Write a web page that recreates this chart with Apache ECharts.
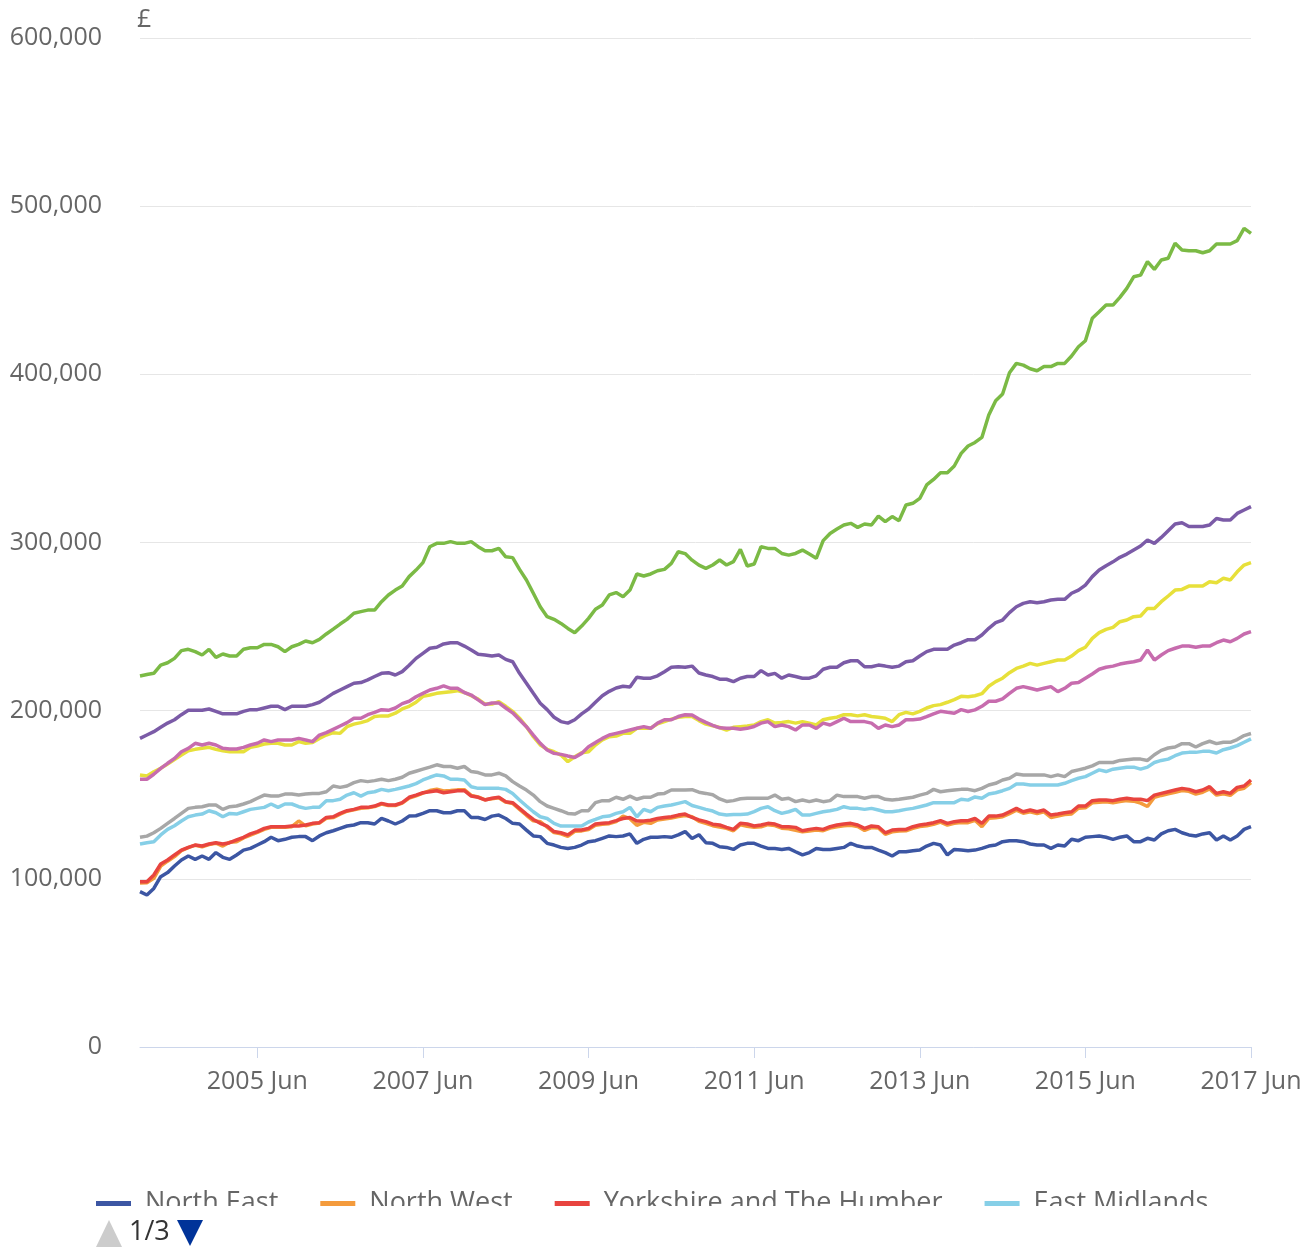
<!DOCTYPE html>
<html>
<head>
<meta charset="utf-8">
<script src="https://cdn.jsdelivr.net/npm/echarts@6/dist/echarts.min.js"></script>
<style>
  html, body { margin: 0; padding: 0; background: #ffffff; }
  #chart { width: 1314px; height: 1248px; }
</style>
</head>
<body>
<div id="chart"></div>
<script>
// ---- Data (monthly, Jan 2004 – Jun 2017, average price £) ----
const monthNames = ['Jan','Feb','Mar','Apr','May','Jun','Jul','Aug','Sep','Oct','Nov','Dec'];
const years = [2004,2005,2006,2007,2008,2009,2010,2011,2012,2013,2014,2015,2016,2017];
const yTicks = [0, 100000, 200000, 300000, 400000, 500000, 600000];

const seriesNames = ['North East','North West','Yorkshire and The Humber','East Midlands','West Midlands','East','London','South East','South West'];
const seriesColors = ['#3c56a3','#f49b3c','#e8443f','#86cfe7','#a7a7a7','#e7e03a','#7bba45','#7b5ba7','#c76cae'];

const northEast = [
  92400,90400,94300,101300,103700,107600,111200,113600,111600,113600,111600,115600,
  112800,111600,114200,117100,118100,120100,122100,124700,122700,123500,124700,125100,
  125100,122700,125500,127400,128600,130000,131400,132000,133400,133400,132600,135900,
  134400,132600,134400,137300,137500,138900,140500,140500,139300,139300,140500,140500,
  136500,136500,135300,137300,137900,135900,133000,132600,129000,125500,125100,121100,
  120100,118700,118100,118700,120100,122100,122700,124100,125500,125100,125500,126700,
  121100,123500,124700,124700,125100,124700,126100,128100,124000,126200,121500,121100,
  119100,118700,117500,120100,121100,121100,119500,118100,118100,117500,118100,116100,
  114200,115600,118100,117500,117500,118100,118700,121100,119500,118700,118700,117100,
  115600,113600,116100,116100,116700,117100,119500,121100,120100,114200,117500,117100,
  116700,117100,118100,119500,120100,122100,122700,122700,122100,120700,120100,120100,
  118100,120100,119500,123500,122700,124700,125100,125500,124700,123500,124700,125500,
  122100,122100,124100,123100,126700,128600,129400,127400,126100,125500,126700,127400,
  123100,125500,123100,125500,129400,131000
];
const northWest = [
  97500,97700,100300,107600,110500,113200,116800,118500,120000,119100,120400,121200,
  119500,121800,122000,124300,126000,127600,129400,130600,130800,130600,131000,134400,
  131500,132600,133200,136000,136400,138400,140200,141000,142000,142200,143000,144500,
  143600,143600,145000,148000,149400,151000,152500,153300,152200,152500,152900,153000,
  149600,148700,147000,147600,148200,145600,144800,141300,137800,134500,134000,130800,
  127500,126800,125200,128300,128500,129300,131800,132500,132800,134000,137300,135800,
  131800,133600,133000,135000,135600,136100,137000,137700,136900,134200,133000,131600,
  130800,130000,128600,132200,131300,130600,131000,132200,131700,130100,129800,128900,
  128000,128500,129000,128600,130200,131000,131600,131900,131100,128800,130500,130200,
  126500,128000,128500,128600,130000,131100,131600,132400,133700,132000,133000,133500,
  133400,134800,131000,136000,136300,136900,138800,140800,139000,139800,138800,139800,
  136500,137400,138200,138600,142000,142300,145200,145600,145800,145300,146000,146500,
  146200,145000,143000,148500,149600,150500,151400,152500,152000,150400,151500,153400,
  149800,150600,149600,152900,153900,157200
];
const yorkshire = [
  98300,98300,102300,108800,111200,114200,117100,118700,120100,119500,120700,121500,
  120700,121500,123100,124700,126700,128100,130000,131000,131000,131000,131400,131400,
  132000,133000,133400,136500,136900,138900,140500,141300,142500,142500,143300,144900,
  143900,143900,145300,148500,149800,151200,151800,152400,151200,151800,152400,152400,
  149200,148500,146900,147900,148500,145900,145300,141900,138500,135300,133000,131400,
  128100,127400,126100,129000,129000,130000,132600,133000,133400,134600,135900,136500,
  134400,134400,134800,135900,136500,136900,137900,138500,136500,135000,134000,132500,
  132000,130600,129400,133000,132600,131400,132000,133000,132600,131000,131000,130600,
  128600,129400,130000,129400,131000,132000,132600,133000,132000,130000,131400,131000,
  127400,129000,129400,129400,131000,132000,132600,133400,134600,133000,134000,134600,
  134600,135900,133000,137300,137300,137900,139900,141900,139900,140900,139900,140900,
  137900,138500,139300,139900,143300,143300,146500,146900,146900,146500,147300,147900,
  147300,147300,146500,149800,150800,151800,152800,153800,153200,151800,152800,154800,
  150800,151800,150800,154400,155200,158800
];
const eastMidlands = [
  120700,121500,122100,126100,129400,131600,134400,136900,137900,138500,140500,139300,
  136900,138900,138500,139900,141300,141900,142500,144500,142500,144500,144500,142900,
  141900,142500,142500,146500,146500,147300,149800,151200,149200,151200,151800,153200,
  152400,153200,154200,155200,156600,158800,160400,161800,161200,159200,159200,158800,
  154800,153800,153800,153800,153800,153200,150800,146900,143300,139900,136900,135900,
  133000,131400,131400,131400,131400,133800,135300,136900,137300,138900,139900,142500,
  136900,141300,139900,142500,143300,143900,144900,145900,143600,142500,141300,140300,
  138500,137900,138200,138200,138500,140000,141900,142900,140500,138900,139900,141300,
  137900,137900,138900,139900,140500,141300,142900,141900,141900,141300,141900,140900,
  139900,139900,140500,141300,141900,142900,143900,145300,145300,145300,145300,147300,
  146800,148700,147900,150400,151200,152400,153800,156400,156400,155800,155800,155800,
  155800,155800,156800,158400,159800,160800,162800,164800,163800,165200,165800,166400,
  166400,165200,166400,169200,170400,171200,173200,174800,175200,175200,175800,175800,
  174800,176800,177800,179200,181200,183200
];
const westMidlands = [
  124700,125400,127400,130000,133000,135900,138900,141900,142500,142900,143900,143900,
  141300,142900,143300,144500,145900,147900,149800,149200,149200,150400,150400,149800,
  150400,150800,150800,151800,155200,154400,155200,157200,158400,157800,158400,159200,
  158400,159200,160400,162800,164000,165200,166400,167800,166800,166800,165800,166800,
  163800,163200,161800,161800,162800,161200,157800,155200,152800,149800,145900,143300,
  141900,140500,138900,138500,140500,140500,145300,146500,146500,148500,147300,149200,
  147300,148500,148500,150400,150800,152800,152800,152800,153000,151500,150800,150000,
  147500,146000,146500,147600,147900,147900,147900,147900,149800,147300,147900,145900,
  146900,145900,146900,145900,146500,149800,148900,148900,148900,147900,148900,148900,
  147300,146900,147300,147900,148500,149800,150800,153200,151800,152400,152800,153200,
  153200,152400,153800,155800,156800,158800,159800,162400,161800,161800,161800,161800,
  160800,161800,160800,163800,164800,165800,167200,169200,169200,169200,170400,170800,
  171200,171200,170400,173800,176400,177800,178400,180400,180400,178400,180400,181800,
  180400,181200,181200,182800,185200,186400
];
const eastOfEngland = [
  161700,161200,163700,165700,168300,171000,173600,176200,177000,177600,178200,177000,
  176200,175600,175600,175600,178200,179000,180200,180600,180600,179600,179600,181600,
  180600,181000,183500,185500,186900,186500,190500,192000,192900,194100,196500,196900,
  196900,198500,201000,202600,205000,208500,209300,210300,210800,211300,211900,210800,
  208900,206900,203900,203900,205300,202600,199600,195500,190500,184500,179600,177000,
  175600,173600,169700,172600,175000,175600,179600,182600,184500,184900,186500,186500,
  189500,189500,189500,192200,193500,195000,196100,196500,196500,194100,192000,191000,
  190000,188500,190100,190500,190900,191500,193500,194600,192600,192900,193500,192600,
  193500,192600,191500,194600,195500,196100,197600,197600,196900,197600,196500,196100,
  195500,193500,197600,199000,198100,199600,201600,203000,203600,205000,206600,208500,
  208300,208900,210100,214500,217300,219300,222600,225100,226500,228100,227100,228100,
  229100,230100,230100,232500,235700,237700,243000,246400,248300,249500,252900,253900,
  255900,256300,260800,260800,264800,268200,271700,272100,274100,274100,274100,276700,
  276100,278700,277700,282600,286600,288000
];
const london = [
  220600,221500,222200,227100,228500,231100,235700,236500,235100,233100,236500,231700,
  233700,232500,232500,236500,237400,237400,239400,239400,238000,235100,238000,239400,
  241400,240400,242400,245600,248500,251500,254300,257900,258900,259800,259800,264800,
  268800,271700,274100,279700,283600,288000,297500,299500,299500,300500,299500,299500,
  300500,297500,295100,295100,296500,291500,291000,284000,277700,269800,261800,255900,
  254300,251900,248900,246400,250300,254900,260300,262800,268800,270200,267800,271700,
  281300,280100,281300,283200,284000,287600,294500,293400,289500,286500,284600,286600,
  289600,286600,288600,295900,286000,287200,297500,296500,296500,293500,292500,293500,
  295500,293100,290600,301100,305400,308000,310400,311400,309000,311000,310400,315700,
  312400,315400,313000,322300,323300,326200,334200,337500,341500,341500,345500,353000,
  357400,359500,362500,375800,384300,388300,400900,406500,405500,403300,402100,404600,
  404600,406500,406500,410900,416400,420000,433300,437200,441200,441200,445800,451100,
  458000,459000,467000,462400,468000,469000,477900,473900,473500,473500,472300,473500,
  477500,477500,477500,479500,486800,483800
];
const southEast = [
  183500,185500,187500,190100,192600,194600,197600,200200,200200,200200,201000,199600,
  198100,198100,198100,199600,200600,200600,201600,202600,202600,200600,202600,202600,
  202600,203600,205000,207600,210300,212300,214300,216300,216700,218300,220300,222200,
  222600,221200,223200,227000,231100,234100,237100,237700,239700,240400,240400,238400,
  236100,233500,233100,232500,233100,230500,229100,222200,216300,210300,204400,200600,
  196100,193500,192600,194600,198100,201000,205000,208900,211500,213500,214500,214100,
  219900,219300,219300,220700,223200,225800,226100,225800,226500,222400,221200,220300,
  218700,218700,217300,219300,220300,220300,223800,221200,222200,219300,221200,220300,
  219300,219300,220700,224600,225800,225800,228500,229700,229700,226100,226100,227100,
  226500,225800,226500,229100,229700,232500,235100,236500,236500,236500,239000,240400,
  242200,242200,245000,249000,252300,253900,258300,261800,263800,264800,264200,264800,
  265800,266200,266200,269800,271700,274700,279700,283600,286200,288500,291200,293100,
  295500,297900,301500,299500,303000,307000,311000,311700,309500,309500,309500,310400,
  314300,313400,313400,317300,319300,321300
];
const southWest = [
  159200,159200,162200,165700,168700,171600,175600,177600,180600,179600,180600,179600,
  177600,177200,177200,178200,179600,180600,182600,181600,182600,182600,182600,183500,
  182600,181600,185500,186900,188900,190900,192900,195500,195500,197600,199000,200600,
  200200,201600,204200,205600,208300,210300,212300,213300,214700,213300,213300,210800,
  209300,206400,203600,204600,204600,201600,198700,194600,190500,185500,180600,176600,
  174600,174000,173000,172200,174600,178600,181000,183500,185500,186500,187500,188500,
  189500,190500,189500,192600,194600,194600,196500,197600,197400,195000,193000,191300,
  189800,189500,189500,189000,189500,190600,192600,193500,190500,191500,190500,188500,
  191500,191500,189500,192600,191500,193500,195500,193500,193500,193500,192600,189500,
  191500,190500,191500,194600,194600,195000,196500,198100,199600,199000,198500,200600,
  199500,200500,202600,205600,205600,207000,210300,213300,214300,213300,212300,213300,
  214300,211300,213300,216300,216700,219300,221800,224600,225800,226500,227700,228500,
  229100,230100,236100,230100,233100,235700,237100,238400,238400,237700,238400,238400,
  240400,242000,241000,243000,245600,247000
];

const seriesValues = [northEast, northWest, yorkshire, eastMidlands, westMidlands, eastOfEngland, london, southEast, southWest];

// Category labels "YYYY Mon", Jan 2004 .. Jun 2017
const categories = [];
years.forEach(function (y) {
  monthNames.forEach(function (m, mi) {
    if (y === 2017 && mi > 5) return;
    categories.push(y + ' ' + m);
  });
});

const FONT = "'Open Sans', 'Noto Sans', sans-serif";
const showTick = function (idx) { return (idx - 17) % 24 === 0; };

const chart = echarts.init(document.getElementById('chart'), null, { renderer: 'canvas' });

const option = {
  backgroundColor: '#ffffff',
  animation: false,
  color: seriesColors,
  grid: { left: 140, right: 63, top: 38, bottom: 201, containLabel: false },
  xAxis: {
    type: 'category',
    data: categories,
    boundaryGap: false,
    axisLine: { show: true, lineStyle: { color: '#ccd6eb', width: 1 } },
    axisTick: { show: true, interval: showTick, length: 11, lineStyle: { color: '#ccd6eb' } },
    axisLabel: {
      interval: showTick,
      margin: 22,
      fontSize: 25,
      color: '#666666',
      fontFamily: FONT
    },
    splitLine: { show: false }
  },
  yAxis: {
    type: 'value',
    min: 0,
    max: 600000,
    interval: 100000,
    name: '£',
    nameLocation: 'end',
    nameGap: 6,
    nameTextStyle: { align: 'left', verticalAlign: 'bottom', fontSize: 25, color: '#666666', fontFamily: FONT, padding: [0, 0, 0, -3] },
    axisLine: { show: false },
    axisTick: { show: false },
    axisLabel: {
      margin: 38,
      fontSize: 25,
      color: '#666666',
      fontFamily: FONT,
      formatter: function (v) { return v.toLocaleString('en-GB'); }
    },
    splitLine: { show: true, lineStyle: { color: '#e6e6e6', width: 1 } }
  },
  legend: {
    type: 'plain',
    data: seriesNames.slice(0, 4),
    left: 91,
    top: 1185,
    orient: 'horizontal',
    icon: 'rect',
    itemWidth: 35,
    itemHeight: 5,
    itemGap: 42,
    selectedMode: false,
    lineStyle: { width: 5 },
    textStyle: { fontSize: 27, color: '#666666', fontFamily: FONT, padding: [0, 0, 0, 9] }
  },
  graphic: [
    { type: 'rect', z: 100, shape: { x: 80, y: 1206, width: 1234, height: 13 }, style: { fill: '#ffffff' } },
    { type: 'polygon', z: 100, shape: { points: [[96, 1247], [109, 1220], [122, 1247]] }, style: { fill: '#cccccc' } },
    { type: 'text', z: 100, left: 129, top: 1219, style: { text: '1/3', fontSize: 27, fill: '#333333', fontFamily: FONT } },
    { type: 'polygon', z: 100, shape: { points: [[177, 1220], [203, 1220], [190, 1246]] }, style: { fill: '#003399' } }
  ],
  series: seriesNames.map(function (name, k) {
    return {
      name: name,
      type: 'line',
      data: seriesValues[k],
      showSymbol: false,
      symbol: 'none',
      lineStyle: { width: 3.5, color: seriesColors[k] },
      itemStyle: { color: seriesColors[k] },
      emphasis: { disabled: true }
    };
  })
};

chart.setOption(option);
</script>
</body>
</html>
